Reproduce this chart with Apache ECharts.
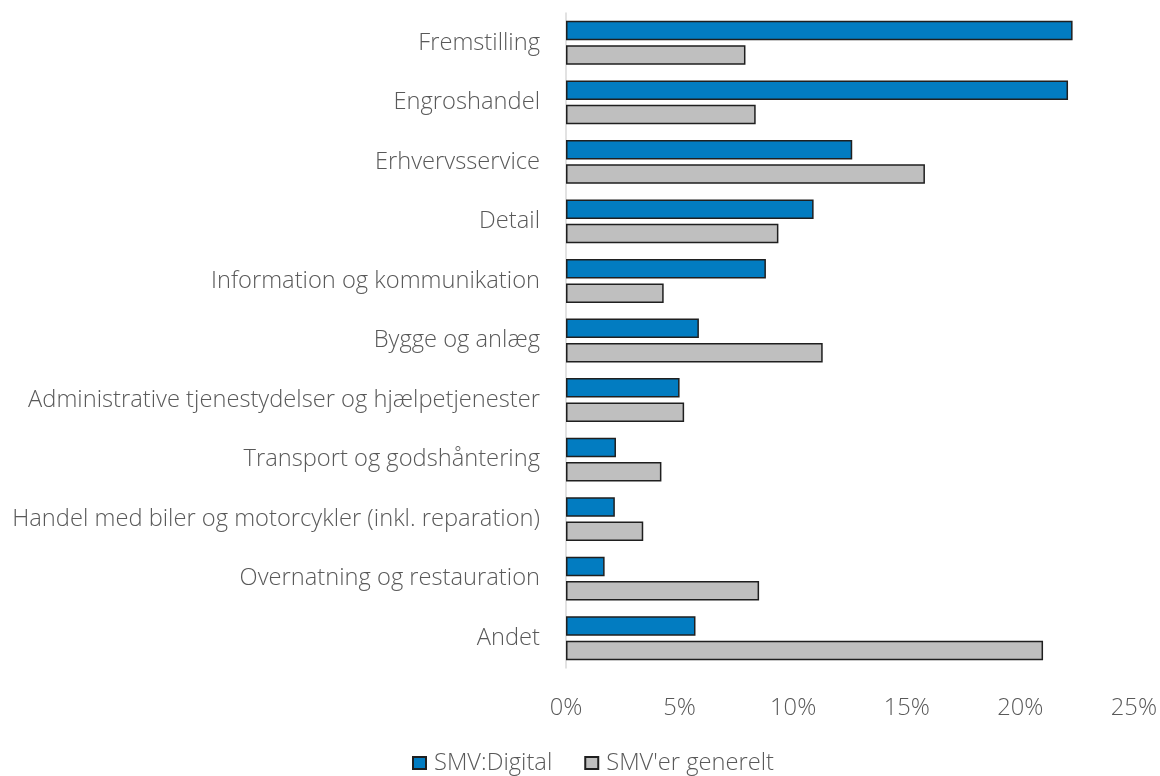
<!DOCTYPE html>
<html>
<head>
<meta charset="utf-8">
<script src="https://cdn.jsdelivr.net/npm/echarts@6/dist/echarts.min.js"></script>
<style>
  html, body { margin: 0; padding: 0; background: #fff; }
  #main { width: 1160px; height: 776px; }
</style>
</head>
<body>
<div id="main"></div>
<script>
// brancher, top til bund
var categories = [
  'Fremstilling',
  'Engroshandel',
  'Erhvervsservice',
  'Detail',
  'Information og kommunikation',
  'Bygge og anlæg',
  'Administrative tjenestydelser og hjælpetjenester',
  'Transport og godshåntering',
  'Handel med biler og motorcykler (inkl. reparation)',
  'Overnatning og restauration',
  'Andet'
];
var digital = [22.3, 22.1, 12.6, 10.9, 8.8, 5.85, 5.0, 2.2, 2.15, 1.7, 5.7];
var generelt = [7.9, 8.35, 15.8, 9.35, 4.3, 11.3, 5.2, 4.2, 3.4, 8.5, 21.0];
var seriesNames = ['SMV:Digital', "SMV'er generelt"];
var xTicks = { min: 0, max: 25, interval: 5 };

var font = '"Open Sans", "Noto Sans", sans-serif';
var textColor = '#595959';
var fs = 23.7;

var option = {
  animation: false,
  textStyle: { fontFamily: font },
  grid: { left: 566, top: 13, width: 575, height: 655, containLabel: false },
  legend: {
    data: seriesNames,
    top: 746,
    left: 407,
    itemWidth: 13,
    itemHeight: 12,
    itemGap: 32,
    icon: 'rect',
    textStyle: { color: textColor, fontSize: fs, fontWeight: 300, fontFamily: font, padding: [0, 0, 0, 3] }
  },
  xAxis: {
    type: 'value',
    min: xTicks.min,
    max: xTicks.max,
    interval: xTicks.interval,
    axisLine: { show: false },
    axisTick: { show: false },
    splitLine: { show: false },
    axisLabel: {
      formatter: '{value}%',
      color: textColor,
      fontSize: fs,
      fontWeight: 300,
      margin: 28
    }
  },
  yAxis: {
    type: 'category',
    data: categories,
    inverse: true,
    axisTick: { show: false },
    axisLine: { show: true, lineStyle: { color: '#d9d9d9', width: 1.5 } },
    axisLabel: {
      color: textColor,
      fontSize: fs,
      fontWeight: 300,
      margin: 26
    }
  },
  series: [
    {
      name: seriesNames[0],
      type: 'bar',
      data: digital,
      barWidth: 19.5,
      barGap: '25%',
      itemStyle: { color: '#027cc1', borderColor: '#1f1f1f', borderWidth: 1.5 }
    },
    {
      name: seriesNames[1],
      type: 'bar',
      data: generelt,
      barWidth: 19.5,
      barGap: '25%',
      itemStyle: { color: '#bfbfbf', borderColor: '#1f1f1f', borderWidth: 1.5 }
    }
  ]
};

var myChart = echarts.init(document.getElementById('main'));
myChart.setOption(option);
window.addEventListener('resize', function () { myChart.resize(); });
</script>
</body>
</html>
